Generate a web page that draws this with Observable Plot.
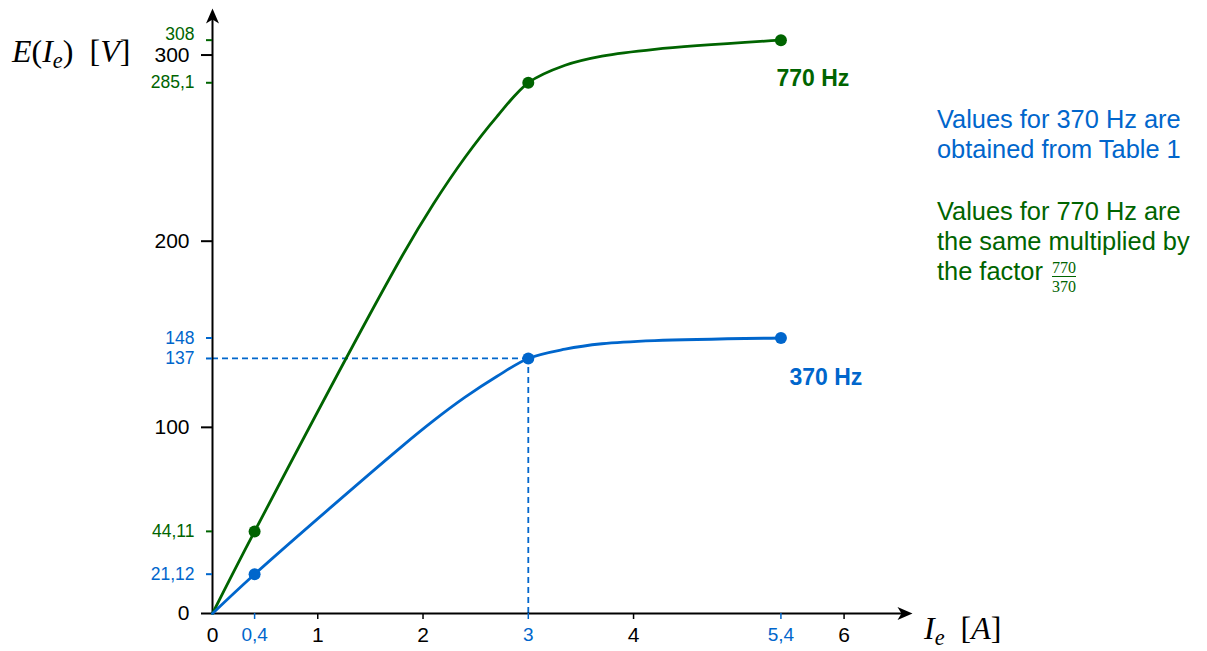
<!DOCTYPE html>
<html>
<head>
<meta charset="utf-8">
<script src="https://cdn.jsdelivr.net/npm/d3@7"></script>
<script src="https://cdn.jsdelivr.net/npm/@observablehq/plot@0.6"></script>
<style>
  body { margin: 0; background: #fff; }
  #wrap { position: relative; width: 1207px; height: 651px; font-family: "Liberation Sans", Arial, sans-serif; }
  #wrap svg { position: absolute; left: 0; top: 0; }
  .math { position: absolute; font-family: "Liberation Serif", "Times New Roman", serif; font-size: 32px; line-height: 32px; white-space: nowrap; color: #000; }
  .math sub { font-size: 0.7em; vertical-align: -0.25em; line-height: 0; }
  .note { position: absolute; left: 937px; font-size: 25.4px; line-height: 30px; white-space: nowrap; }
  .frac { display: inline-flex; flex-direction: column; align-items: center; vertical-align: 7px;
          font-family: "Liberation Serif", "Times New Roman", serif; font-size: 16px; line-height: 17px; margin-left: 2px; }
  .frac .den { border-top: 1.2px solid currentColor; padding-top: 1px; }
</style>
</head>
<body>
<div id="wrap"></div>
<script>
// ---- data ----
const ie     = [0, 0.4, 1.8, 2.1, 2.4, 2.7, 3, 3.35, 3.7, 4.2, 5.4];
const e370   = [0, 21.12, 89.8, 103.6, 116.2, 127.3, 137, 142, 144.9, 146.6, 148];
const e770   = [0, 44.11, 191.9, 220.1, 245.1, 266.8, 285.1, 294.5, 299.4, 303.1, 308];
const markIe  = [0.4, 3, 5.4];
const mark370 = [21.12, 137, 148];
const mark770 = [44.11, 285.1, 308];
const yTicksBlack = [0, 100, 200, 300];
const yTicks770   = [44.11, 285.1, 308];
const yTicks370   = [21.12, 137, 148];
const xTicksBlack = [1, 2, 4, 6];
const xTicks370   = [0.4, 3, 5.4];
const xMax = 6.65, yMax = 325;   // axis extents (arrow tips)
const seriesLabels = ["770 Hz", "370 Hz"];

const GREEN = "#006400", BLUE = "#0066cc";
const fmt = d => String(d).replace(".", ",");
const none = () => "";

const line370 = ie.map((x, i) => ({x, y: e370[i]}));
const line770 = ie.map((x, i) => ({x, y: e770[i]}));
const pts370 = markIe.map((x, i) => ({x, y: mark370[i]}));
const pts770 = markIe.map((x, i) => ({x, y: mark770[i]}));

const stealth = { draw(ctx) { ctx.moveTo(0, 0); ctx.lineTo(-6.5, 15); ctx.lineTo(0, 11); ctx.lineTo(6.5, 15); ctx.closePath(); } };

const font = "Liberation Sans, Arial, sans-serif";

const chart = Plot.plot({
  width: 1207, height: 651,
  marginLeft: 212, marginRight: 295, marginTop: 8, marginBottom: 38,
  style: { fontFamily: font, background: "transparent" },
  x: { domain: [0, xMax] },
  y: { domain: [0, yMax] },
  marks: [
    // dashed guides at 3 A / 137 V
    Plot.ruleY([mark370[1]], { x1: 0, x2: markIe[1], stroke: BLUE, strokeWidth: 1.8, strokeDasharray: "6,4" }),
    Plot.ruleX([markIe[1]], { y1: 0, y2: mark370[1], stroke: BLUE, strokeWidth: 1.8, strokeDasharray: "6,4" }),
    // axes lines
    Plot.ruleY([0], { x1: 0, x2: xMax - 0.05, stroke: "black", strokeWidth: 2 }),
    Plot.ruleX([0], { y1: 0, y2: yMax - 4, stroke: "black", strokeWidth: 2 }),
    Plot.dot([{x: xMax, y: 0}], { x: "x", y: "y", symbol: stealth, fill: "black", stroke: null, rotate: 90 }),
    Plot.dot([{x: 0, y: yMax}], { x: "x", y: "y", symbol: stealth, fill: "black", stroke: null }),
    // axes ticks and labels
    Plot.axisY({ ticks: yTicksBlack, tickSize: 11, tickPadding: 12, fontSize: 21, strokeWidth: 2, label: null, anchor: "left" }),
    Plot.axisY({ ticks: yTicks770, tickFormat: none, color: GREEN, tickSize: 6, strokeWidth: 2, label: null, anchor: "left" }),
    Plot.axisY({ ticks: yTicks770.slice(0, 2), tickFormat: fmt, color: GREEN, tickSize: 0, tickPadding: 18, fontSize: 17.5, label: null, anchor: "left" }),
    Plot.axisY({ ticks: yTicks770.slice(2), tickFormat: fmt, color: GREEN, tickSize: 0, tickPadding: 18, fontSize: 17.5, label: null, anchor: "left", dy: -6 }),
    Plot.axisY({ ticks: yTicks370, tickFormat: fmt, color: BLUE, tickSize: 6, tickPadding: 12, fontSize: 17.5, strokeWidth: 2, label: null, anchor: "left" }),
    Plot.axisX({ ticks: xTicksBlack, tickFormat: fmt, tickSize: 6, tickPadding: 8, fontSize: 21, strokeWidth: 1.5, label: null, anchor: "bottom" }),
    Plot.axisX({ ticks: [0], tickFormat: fmt, tickSize: 0, tickPadding: 14, fontSize: 21, label: null, anchor: "bottom" }),
    Plot.axisX({ ticks: xTicks370, tickFormat: fmt, color: BLUE, tickSize: 6, tickPadding: 8, fontSize: 19, strokeWidth: 1.5, label: null, anchor: "bottom" }),
    // curves
    Plot.line(line770, { x: "x", y: "y", stroke: GREEN, strokeWidth: 2.8, curve: "catmull-rom" }),
    Plot.line(line370, { x: "x", y: "y", stroke: BLUE, strokeWidth: 2.8, curve: "catmull-rom" }),
    Plot.dot(pts770, { x: "x", y: "y", r: 6, fill: GREEN, stroke: null }),
    Plot.dot(pts370, { x: "x", y: "y", r: 6, fill: BLUE, stroke: null }),
    // series labels
    Plot.text([pts770[2]], { x: "x", y: "y", text: () => seriesLabels[0], dx: 32, dy: 38, fill: GREEN, fontSize: 23, fontWeight: "bold" }),
    Plot.text([pts370[2]], { x: "x", y: "y", text: () => seriesLabels[1], dx: 45, dy: 40, fill: BLUE, fontSize: 23, fontWeight: "bold" })
  ]
});

const wrap = document.getElementById("wrap");
wrap.appendChild(chart);

const html = `
  <div class="math" style="left:12px; top:35px;"><i>E</i>(<i>I</i><sub><i>e</i></sub>)&nbsp;&nbsp;[<i>V</i>]</div>
  <div class="math" style="left:924px; top:612px;"><i>I</i><sub><i>e</i></sub>&nbsp;&nbsp;[<i>A</i>]</div>
  <div class="note" style="top:104px; color:${BLUE};">Values for 370 Hz are<br>obtained from Table 1</div>
  <div class="note" style="top:196px; color:${GREEN};">Values for 770 Hz are<br>the same multiplied by<br>the factor <span class="frac"><span>770</span><span class="den">370</span></span></div>
`;
wrap.insertAdjacentHTML("beforeend", html);
</script>
</body>
</html>
